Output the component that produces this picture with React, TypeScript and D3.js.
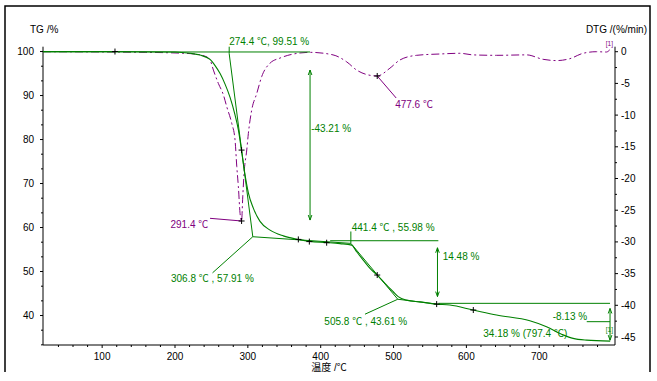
import React from 'react';
import * as d3 from 'd3';

// ---- data ----
const tgTemp = [18.8, 117.6, 200, 220.7, 234.4, 248.1, 255, 261.9, 268.7, 275.6, 282.4, 287, 291.4, 296.2, 300.7, 307.5, 316.7, 330.5, 348.7, 369.3, 385.3, 408.2, 426.5, 442.5, 449.4, 458.4, 470, 477.6, 488.2, 499.6, 506.4, 518, 536.2, 559.1, 577.3, 609.3, 641.4, 687.1, 710, 732.8, 746.5, 764.9, 797.4];
const tgValue = [100, 100, 99.9, 99.6, 99.2, 98.2, 96.8, 95.0, 92.6, 89.6, 85.6, 82.2, 77.4, 71.9, 67.9, 64.4, 61.4, 59.4, 58.1, 57.3, 56.85, 56.6, 56.35, 56.0, 54.5, 52.6, 50.3, 49.2, 47.3, 45.4, 44.3, 43.5, 43.1, 42.6, 42.4, 41.25, 40.1, 38.8, 37.45, 35.6, 34.8, 34.4, 34.18];

const dtgTemp = [18.8, 159, 221, 241, 248.1, 252.7, 259.5, 266.4, 271.1, 277.9, 282.4, 284.8, 287, 289.3, 291.4, 293, 294.8, 298.5, 300.7, 305.3, 312.2, 319.1, 330.5, 344.2, 371.6, 385.3, 416.9, 435.7, 449.4, 463.1, 477.6, 495, 508.8, 531.7, 563.6, 591, 609.3, 641.4, 682.6, 705.3, 723.7, 742, 760.2, 778.6, 792.3, 796.8];
const dtgValue = [0, -0.1, -0.3, -0.7, -1.3, -2.9, -5.0, -6.8, -8.7, -11.3, -13.9, -18.1, -21.3, -25.5, -26.7, -22.9, -19.2, -15.5, -12.9, -9.2, -6.6, -3.9, -1.8, -1.0, -0.2, -0.1, -0.5, -1.6, -2.9, -3.6, -3.83, -2.6, -1.3, -0.57, -0.36, -0.25, -0.5, -0.57, -0.5, -1.2, -1.4, -1.1, -0.25, 0, -0.05, 0.3];

const xTicks = [100, 200, 300, 400, 500, 600, 700];
const tgTicks = [40, 50, 60, 70, 80, 90, 100];
const dtgTicks = [0, -5, -10, -15, -20, -25, -30, -35, -40, -45];

const tgMarkerTemp = [117.6, 291.4, 369.3, 384.4, 408.2, 477.6, 559.2, 609.5];
const tgMarkerValue = [100, 77.6, 57.3, 56.8, 56.55, 49.2, 42.6, 41.25];
const dtgMarkerTemp = [291.4, 477.6];
const dtgMarkerValue = [-26.7, -3.83];

// evaluation lines [t1, v1, t2, v2] in TG units
const tgSegments = [
  [18.8, 99.9, 385.4, 99.9],
  [274.4, 101.1, 274.4, 99.51],
  [274.4, 99.51, 306.8, 57.91],
  [306.8, 57.91, 441.4, 56.4],
  [441.4, 56.4, 441.4, 59.1],
  [413, 57.0, 561.5, 57.0],
  [441.4, 56.4, 505.8, 43.7],
  [505.8, 43.7, 559.2, 42.6],
  [561.5, 42.77, 797.2, 42.77],
  [765.2, 38.6, 797.2, 38.6],
  [251.5, 49.7, 306.8, 57.91],
  [460.8, 40.3, 505.8, 43.7],
];
// double arrows [t, vTop, vBottom]
const tgArrows = [
  [385.4, 95.8, 61.7],
  [560.3, 55.4, 44.3],
  [797.2, 41.6, 34.4],
];
const dtgSegments = [
  [248.1, -26.28, 291.4, -26.7],
  [477.6, -3.83, 503.6, -7.3],
];

const tgLabelText = ['274.4 ℃, 99.51 %', '-43.21 %', '441.4 ℃ , 55.98 %', '14.48 %', '306.8 ℃ , 57.91 %', '505.8 ℃ , 43.61 %', '-8.13 %', '34.18 % (797.4 ℃)'];
const tgLabelT = [274.4, 386.9, 442.6, 567.5, 194.5, 405, 718.5, 623.2];
const tgLabelV = [101.48, 81.8, 59.2, 52.7, 47.7, 37.8, 39.0, 35.2];
const dtgLabelText = ['291.4 ℃', '477.6 ℃'];
const dtgLabelT = [245.7, 502.2];
const dtgLabelV = [-27.8, -8.88];
const dtgLabelAnchor = ['end', 'start'];

const GREEN = '#008000';
const PURPLE = '#800080';
const FONT = '"Liberation Sans", Arial, "Noto Sans CJK SC", sans-serif';

export default function App() {
  const W = 657, H = 381;
  const x = d3.scaleLinear().domain([18.8, 804]).range([43, 615]);
  const yTG = d3.scaleLinear().domain([33.3, 101.1]).range([345, 46.7]);
  const yDTG = d3.scaleLinear().domain([-46.26, 0.79]).range([345, 46.7]);

  const tgLine = d3.line<number>().x((_, i) => x(tgTemp[i])).y((d) => yTG(d)).curve(d3.curveMonotoneX);
  const dtgLine = d3.line<number>().x((_, i) => x(dtgTemp[i])).y((d) => yDTG(d)).curve(d3.curveMonotoneX);

  const x0 = x.range()[0], x1 = x.range()[1];
  const yb = yTG.range()[0], yt = yTG.range()[1];

  const xMinor = d3.range(40, 801, 20).filter((t) => t % 100 !== 0);
  const tgMinor = d3.range(0, 21).map((i) => 100 - i * (10 / 3)).filter((v) => v >= 33.3 && Math.abs(v - Math.round(v / 10) * 10) > 0.01);
  const dtgMinor = d3.range(0, 19).map((i) => -2.5 - i * 5).filter((v) => v >= -46.2);

  const cross = (cx: number, cy: number, k: string) => (
    <path key={k} d={`M${cx - 3},${cy}H${cx + 3}M${cx},${cy - 3}V${cy + 3}`} stroke="#000" strokeWidth={1} fill="none" />
  );
  const dArrow = (t: number, v1: number, v2: number, k: string) => {
    const ax = x(t), a = yTG(v1), b = yTG(v2);
    return (
      <path key={k} d={`M${ax},${a}V${b}M${ax - 1.8},${a + 5}L${ax},${a}L${ax + 1.8},${a + 5}M${ax - 1.8},${b - 5}L${ax},${b}L${ax + 1.8},${b - 5}`} stroke={GREEN} strokeWidth={1} fill="none" />
    );
  };

  return (
    <svg width={W} height={H} style={{ position: 'absolute', left: 0, top: 0, background: '#fff' }} fontFamily={FONT}>
      <rect x={0} y={0} width={W} height={H} fill="#fff" />
      {/* outer frame */}
      <path d={`M5,372V6H650V372`} stroke="#000" strokeWidth={1.5} fill="none" />

      {/* axes */}
      <path d={`M${x0},${yt}V${yb}H${x1}V${yt}`} stroke="#000" strokeWidth={1} fill="none" />
      {tgTicks.map((v) => (
        <g key={'tg' + v}>
          <line x1={x0 - 3} x2={x0} y1={yTG(v)} y2={yTG(v)} stroke="#000" />
          <text x={34} y={yTG(v) + 3.5} fontSize={10} textAnchor="end">{v}</text>
        </g>
      ))}
      {tgMinor.map((v, i) => (
        <line key={'tgm' + i} x1={x0 - 2} x2={x0} y1={yTG(v)} y2={yTG(v)} stroke="#000" />
      ))}
      {dtgTicks.map((v) => (
        <g key={'dtg' + v}>
          <line x1={x1} x2={x1 + 3} y1={yDTG(v)} y2={yDTG(v)} stroke="#000" />
          <text x={621} y={yDTG(v) + 3.5} fontSize={10} textAnchor="start">{v}</text>
        </g>
      ))}
      {dtgMinor.map((v, i) => (
        <line key={'dtgm' + i} x1={x1} x2={x1 + 2} y1={yDTG(v)} y2={yDTG(v)} stroke="#000" />
      ))}
      {xTicks.map((t) => (
        <g key={'x' + t}>
          <line x1={x(t)} x2={x(t)} y1={yb} y2={yb + 3} stroke="#000" />
          <text x={x(t)} y={360} fontSize={10} textAnchor="middle">{t}</text>
        </g>
      ))}
      {xMinor.map((t) => (
        <line key={'xm' + t} x1={x(t)} x2={x(t)} y1={yb} y2={yb + 2} stroke="#000" />
      ))}

      {/* titles */}
      <text x={30} y={33} fontSize={10}>TG /%</text>
      <text x={647} y={33} fontSize={10} textAnchor="end">DTG /(%/min)</text>
      <text x={(x0 + x1) / 2} y={371} fontSize={10} textAnchor="middle">温度 /℃</text>

      {/* DTG curve */}
      <path d={dtgLine(dtgValue) || ''} stroke={PURPLE} strokeWidth={1} fill="none" strokeDasharray="8,3,2,3" />
      {dtgSegments.map((s, i) => (
        <line key={'ds' + i} x1={x(s[0])} y1={yDTG(s[1])} x2={x(s[2])} y2={yDTG(s[3])} stroke={PURPLE} strokeWidth={1} />
      ))}

      {/* TG evaluation lines */}
      {tgSegments.map((s, i) => (
        <line key={'ts' + i} x1={x(s[0])} y1={yTG(s[1])} x2={x(s[2])} y2={yTG(s[3])} stroke={GREEN} strokeWidth={1} />
      ))}
      {tgArrows.map((a, i) => dArrow(a[0], a[1], a[2], 'ta' + i))}

      {/* TG curve */}
      <path d={tgLine(tgValue) || ''} stroke={GREEN} strokeWidth={1.1} fill="none" />

      {/* markers */}
      {tgMarkerTemp.map((t, i) => cross(x(t), yTG(tgMarkerValue[i]), 'tm' + i))}
      {dtgMarkerTemp.map((t, i) => cross(x(t), yDTG(dtgMarkerValue[i]), 'dm' + i))}

      {/* labels */}
      {tgLabelText.map((s, i) => (
        <text key={'tl' + i} x={x(tgLabelT[i])} y={yTG(tgLabelV[i])} fontSize={10} fill={GREEN}>{s}</text>
      ))}
      {dtgLabelText.map((s, i) => (
        <text key={'dl' + i} x={x(dtgLabelT[i])} y={yDTG(dtgLabelV[i])} fontSize={10} fill={PURPLE} textAnchor={dtgLabelAnchor[i] as any}>{s}</text>
      ))}
      <text x={x(791.3)} y={yDTG(0.9)} fontSize={6.5} fill={PURPLE}>[1]</text>
      <text x={x(791.3)} y={yTG(36.3)} fontSize={6.5} fill={GREEN}>[1]</text>
    </svg>
  );
}
